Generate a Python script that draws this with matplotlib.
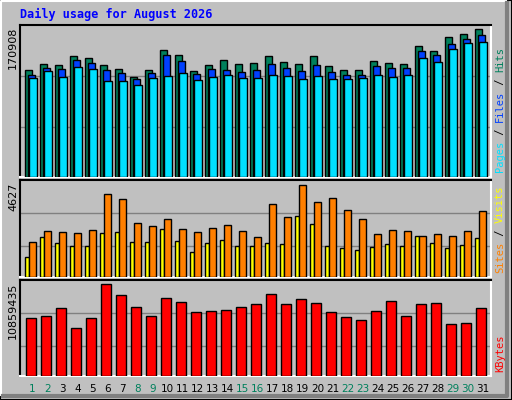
import matplotlib
matplotlib.use("Agg")
import matplotlib.pyplot as plt
from matplotlib.patches import Rectangle

days = list(range(1, 32))
weekend_days = [1, 2, 8, 9, 15, 16, 22, 23, 29, 30]
hits = [123236,130211,129049,139512,137187,129049,124398,115097,123236,146488,140675,122073,129049,134862,130211,131374,
        139512,132536,130211,139512,127886,123236,123236,133699,131374,130211,151138,145325,161601,165089,170908]
files = [117423,125561,124398,134862,131374,123236,119748,112772,119748,140675,133699,118585,124398,123236,120910,123236,
         130211,125561,122073,129049,120910,117423,117423,127886,125561,125561,145325,140675,153463,159276,163927]
pages = [113935,122073,115097,126723,124398,110447,110447,105797,113935,116260,119748,111610,115097,117423,113935,113935,
         117423,116260,112772,116260,112772,112772,113935,117423,115097,117423,137187,132536,147650,154626,155788]
visits = [1760,2313,2263,2213,2364,4174,3923,2716,2565,2917,2414,2263,2464,2615,2313,2012,
          3671,3017,4627,3772,3973,3370,2917,2163,2364,2313,2062,2163,2062,2313,3319]
sites = [1006,2012,1710,1559,1559,2213,2263,1760,1760,2414,1810,1257,1710,1861,1559,1559,
         1710,1660,3068,2665,1559,1458,1358,1509,1660,1559,2062,1710,1458,1609,1961]
kbytes = [6802038,7040706,7995378,5608698,6802038,10859435,9546720,8114712,7040706,9188718,8711382,7518042,7637376,
          7756710,8114712,8472714,9666054,8472714,9069384,8592048,7518042,6921372,6563370,7637376,8830716,7040706,
          8472714,8592048,6086034,6205368,7995378]
title = "Daily usage for August 2026"

C_HITS, C_FILES, C_PAGES = "#00805c", "#0040ff", "#00e0ff"
C_VISITS, C_SITES, C_KB = "#ff8000", "#ffff00", "#ff0000"
BG = "#c0c0c0"
W, H = 512, 400

fig = plt.figure(figsize=(5.12, 4.0), dpi=100, facecolor=BG)

def fx(px): return px / W
def fy(py): return 1 - py / H

# outer 3D border
fig.add_artist(Rectangle((0, 0), 1, 1, transform=fig.transFigure, fill=False, ec="black", lw=1.5))
fig.add_artist(plt.Line2D([fx(1), fx(1), fx(506)], [fy(395), fy(1), fy(1)], transform=fig.transFigure, color="white", lw=1.5))
fig.add_artist(plt.Line2D([fx(507), fx(507), fx(3)], [fy(3), fy(396), fy(396)], transform=fig.transFigure, color="#808080", lw=3))

fig.text(fx(20), fy(14), title, color="#0000ff", fontsize=8.5, fontweight="bold",
         family="DejaVu Sans Mono", va="center", ha="left")

x0 = 1 - 5 / 15
xspan = 471 / 15

def make_ax(top, bottom):
    ax = fig.add_axes([fx(20), fy(bottom), fx(491) - fx(20), fy(top) - fy(bottom)])
    ax.set_facecolor(BG)
    ax.set_xlim(x0, x0 + xspan)
    ax.set_xticks([]); ax.set_yticks([])
    ax.spines["top"].set_color("black"); ax.spines["left"].set_color("black")
    ax.spines["bottom"].set_color("white"); ax.spines["right"].set_color("white")
    for s in ax.spines.values():
        s.set_linewidth(1.5)
    return ax

def grid(ax, ymax, fracs):
    for f in fracs:
        ax.axhline(ymax * f, color="#808080", lw=1, zorder=0)

def vlabel(ax_top_py, txt):
    fig.text(fx(13), fy(ax_top_py), txt, rotation=90, fontsize=8, family="DejaVu Sans",
             va="top", ha="center", color="black")

def rlabel(bottom_py, parts):
    y = bottom_py
    for t, c in parts:
        fig.text(fx(500), fy(y), t, rotation=90, fontsize=7.5, family="DejaVu Sans Mono",
                 va="bottom", ha="center", color=c)
        y -= len(t) * 6.25

kw = dict(align="edge", edgecolor="black", linewidth=1, zorder=3)
fw = 1 / 15

# top panel
ax1 = make_ax(25, 177)
ymax1 = max(hits) * 152 / 148
ax1.set_ylim(0, ymax1)
grid(ax1, ymax1, [50 / 152, 101 / 152])
ax1.bar([d for d in days], hits, width=7 * fw, color=C_HITS, **kw)
ax1.bar([d + 2.5 * fw for d in days], files, width=7 * fw, color=C_FILES, **kw)
ax1.bar([d + 4 * fw for d in days], pages, width=8 * fw, color=C_PAGES, **kw)
vlabel(27, str(max(hits)))
rlabel(172, [("Pages", C_PAGES), (" / ", "black"), ("Files", C_FILES), (" / ", "black"), ("Hits", C_HITS)])

# middle panel
ax2 = make_ax(180, 277)
ymax2 = max(visits) * 97 / 92
ax2.set_ylim(0, ymax2)
grid(ax2, ymax2, [31 / 97, 64 / 97])
ax2.bar([d for d in days], sites, width=4 * fw, color=C_SITES, **kw)
ax2.bar([d + 4.3 * fw for d in days], visits, width=7 * fw, color=C_VISITS, **kw)
vlabel(183, str(max(visits)))
rlabel(273, [("Sites", C_VISITS), (" / ", "black"), ("Visits", C_SITES)])

# bottom panel
ax3 = make_ax(280, 376)
ymax3 = max(kbytes) * 96 / 92
ax3.set_ylim(0, ymax3)
grid(ax3, ymax3, [30 / 96, 63 / 96])
ax3.bar([d + 1 * fw for d in days], kbytes, width=10 * fw, color=C_KB, **kw)
vlabel(283, str(max(kbytes)))
rlabel(372, [("KBytes", C_KB)])

for d in days:
    xp = 20 + (d + 0.5 - x0) * 15
    fig.text(fx(xp), fy(389), str(d), fontsize=7.5, family="DejaVu Sans", ha="center", va="center",
             color=C_HITS if d in weekend_days else "black")

fig.savefig("out.png", dpi=100, facecolor=BG)
